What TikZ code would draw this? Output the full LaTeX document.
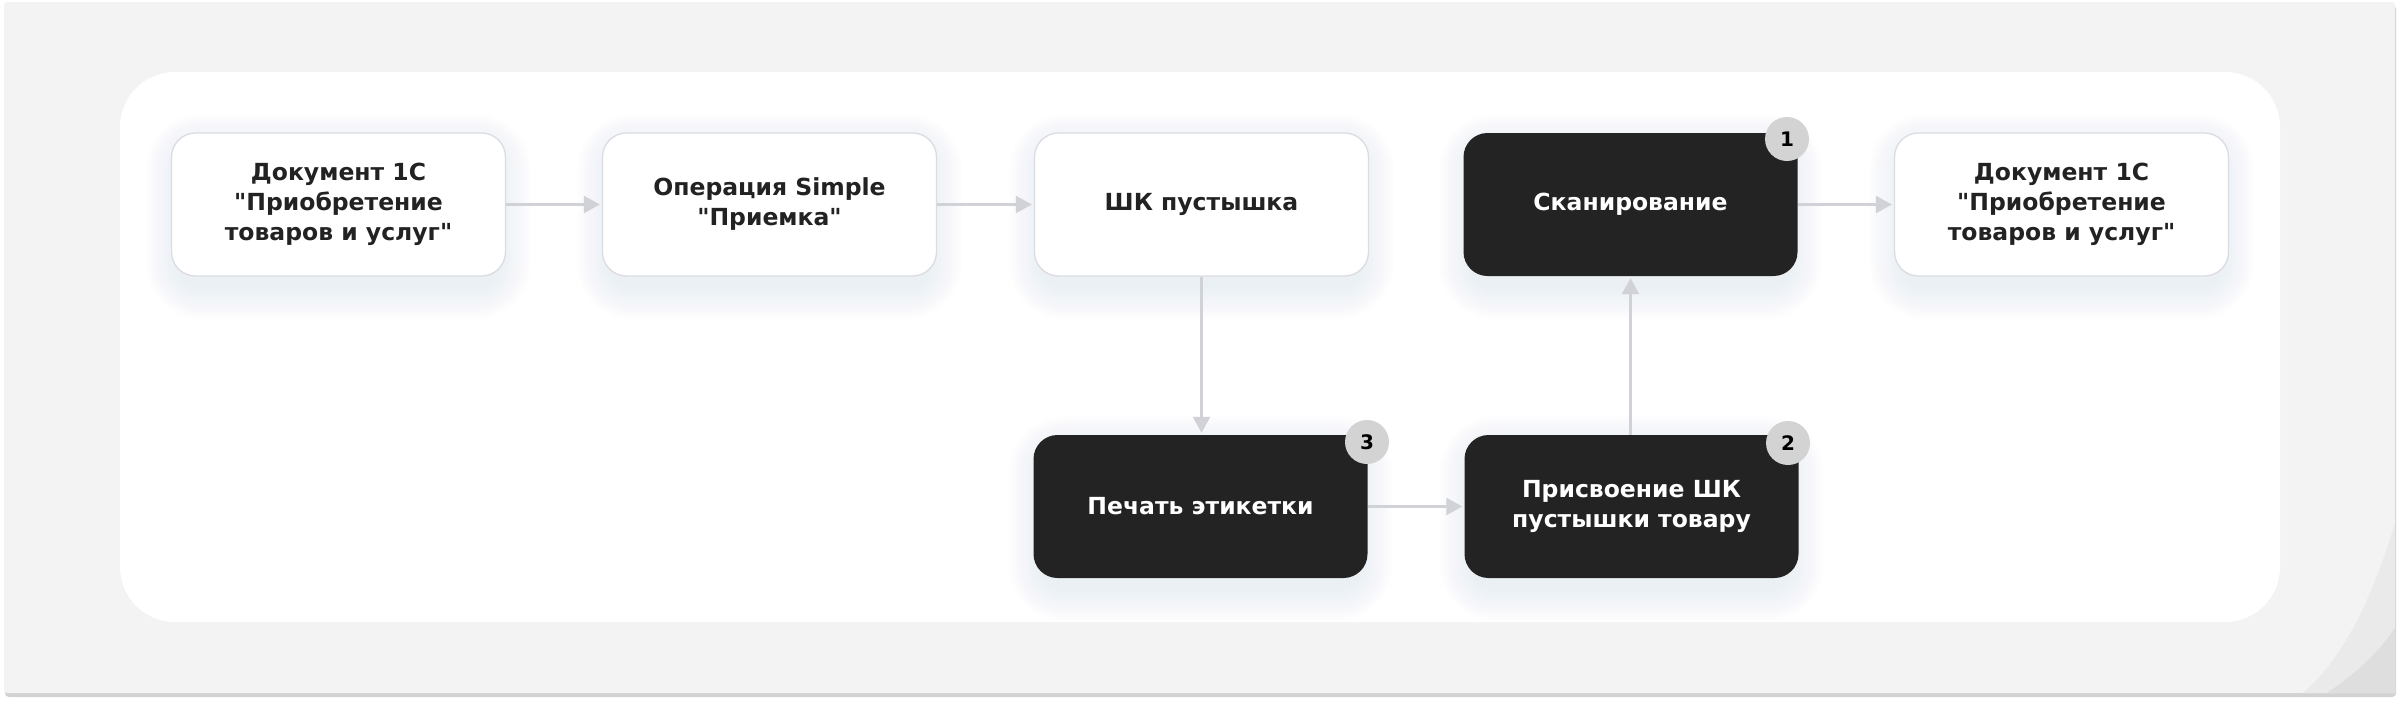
\documentclass[tikz,border=0pt]{standalone}
\usepackage{fontspec}
\setmainfont{DejaVu Sans}
\newfontfamily\nodefontfam{DejaVu Sans}
\usetikzlibrary{arrows.meta,calc}
\definecolor{pagebg}{HTML}{FFFFFF}
\definecolor{panelgray}{HTML}{F3F3F4}
\definecolor{panelshadow}{HTML}{D2D2D4}
\definecolor{curlA}{HTML}{EAEAEB}
\definecolor{curlB}{HTML}{DEDEDF}
\definecolor{boxborder}{HTML}{DADCE2}
\definecolor{darkfill}{HTML}{232323}
\definecolor{textdark}{HTML}{222222}
\definecolor{badgegray}{HTML}{D3D3D3}
\definecolor{arrowgray}{HTML}{D0D2D7}
\definecolor{glowcol}{HTML}{C4CEF0}
\pgfdeclarelayer{bg}
\pgfsetlayers{bg,main}
\tikzset{
  nodetext/.style={font=\nodefontfam\bfseries\fontsize{23.5}{30}\selectfont},
  procbox/.style={rectangle, rounded corners=24pt, minimum width=334pt, minimum height=143pt,
    inner sep=0pt, align=center, nodetext},
  lightbox/.style={procbox, fill=white, draw=boxborder, line width=1.3pt, text=textdark},
  darkbox/.style={procbox, fill=darkfill, draw=none, text=white},
  badge/.style={circle, fill=badgegray, minimum size=44pt, inner sep=0pt, text=black,
    font=\nodefontfam\bfseries\fontsize{20}{22}\selectfont},
  flow/.style={draw=arrowgray, line width=2.6pt, -{Triangle[length=16pt,width=17pt]}, shorten >=2pt}
}
\begin{document}
\begin{tikzpicture}[x=1pt,y=-1pt]
\useasboundingbox (0,0) rectangle (2400,705);
\begin{pgfonlayer}{bg}
  \fill[pagebg] (0,0) rectangle (2400,705);
  \fill[panelshadow, rounded corners=4pt] (5,5) rectangle (2396,697);
  \fill[panelgray, rounded corners=3pt] (4,2) rectangle (2395,693);
  \fill[curlA] (2395,523) .. controls (2372,600) and (2342,660) .. (2303,693) -- (2395,693) -- cycle;
  \fill[curlB] (2395,628) .. controls (2377,655) and (2352,676) .. (2327,693) -- (2395,693) -- cycle;
  \fill[white, rounded corners=55pt] (120,72) rectangle (2280,622);
\end{pgfonlayer}

\node[lightbox] (b1) at (338.5,204.5) {Документ 1С\\"Приобретение\\товаров и услуг"};
\node[lightbox] (b2) at (769.5,204.5) {Операция Simple\\"Приемка"};
\node[lightbox] (b3) at (1201.5,204.5) {ШК пустышка};
\node[darkbox]  (b4) at (1630.5,204.5) {Сканирование};
\node[lightbox] (b5) at (2061.5,204.5) {Документ 1С\\"Приобретение\\товаров и услуг"};
\node[darkbox]  (b6) at (1200.5,506.5) {Печать этикетки};
\node[darkbox]  (b7) at (1631.5,506.5) {Присвоение ШК\\пустышки товару};

\node[badge] (n1) at (1787,139) {1};
\node[badge] (n2) at (1788,443) {2};
\node[badge] (n3) at (1367,442) {3};

\draw[flow] (b1.east) -- (b2.west);
\draw[flow] (b2.east) -- (b3.west);
\draw[flow] (b3.south) -- (b3.south |- b6.north);
\draw[flow] (b6.east) -- (b7.west);
\draw[flow] (b7.north -| b4.south) -- (b4.south);
\draw[flow] (b4.east) -- (b5.west);

\begin{pgfonlayer}{bg}
  \foreach \n in {b1,b2,b3,b4,b5,b6,b7}{
    \foreach \k in {0,3,...,30}{
      \pgfmathsetmacro{\rr}{24+\k}
      \fill[glowcol, opacity=0.022, rounded corners=\rr pt]
        ([xshift=-\k pt + 6pt, yshift=\k pt - 12pt]\n.north west) rectangle
        ([xshift=\k pt - 6pt, yshift=-\k pt - 12pt]\n.south east);
    }
  }
\end{pgfonlayer}
\end{tikzpicture}
\end{document}
